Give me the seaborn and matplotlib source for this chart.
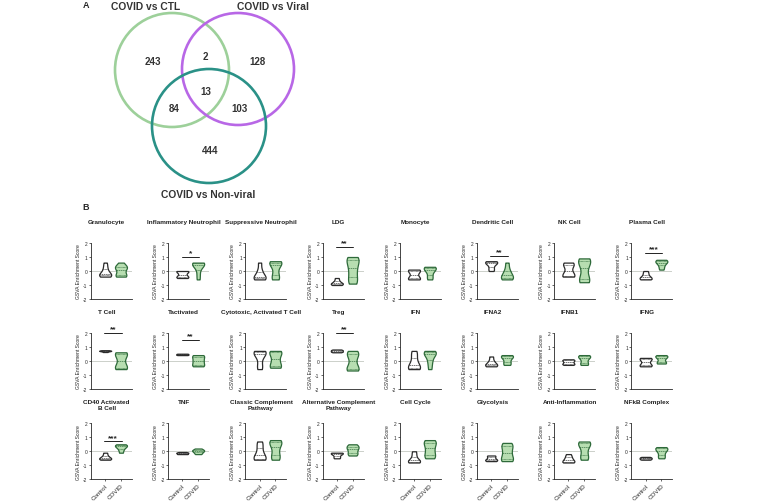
import numpy as np
import pandas as pd
import seaborn as sns
import matplotlib.pyplot as plt
from matplotlib.patches import Circle

# Venn (panel A)
venn_names = ["COVID vs CTL", "COVID vs Viral", "COVID vs Non-viral"]
# regions: CTL only, CTL&Viral, Viral only, all three, CTL&NonViral, Viral&NonViral, NonViral only
venn_counts = [243, 2, 128, 13, 84, 103, 444]

# violins (panel B)
panel_titles = ["Granulocyte", "Inflammatory Neutrophil", "Suppressive Neutrophil", "LDG",
                "Monocyte", "Dendritic Cell", "NK Cell", "Plasma Cell",
                "T Cell", "Tactivated", "Cytotoxic, Activated T Cell", "Treg",
                "IFN", "IFNA2", "IFNB1", "IFNG",
                "CD40 Activated\nB Cell", "TNF", "Classic Complement\nPathway",
                "Alternative Complement\nPathway", "Cell Cycle", "Glycolysis",
                "Anti-Inflammation", "NFkB Complex"]
groups = ["Control", "COVID"]

control_scores = [
    [-0.4, -0.35, -0.3, -0.25, -0.15, 0.05, 0.3, 0.6],
    [-0.5, -0.45, -0.4, -0.25, -0.05, -0.02, 0.0],
    [-0.6, -0.55, -0.5, -0.4, -0.2, 0.1, 0.6],
    [-1.0, -0.95, -0.9, -0.85, -0.7, -0.5],
    [-0.6, -0.55, -0.5, -0.25, 0.0, 0.05, 0.1],
    [0.0, 0.2, 0.5, 0.6, 0.65, 0.7],
    [-0.4, -0.35, -0.3, 0.0, 0.4, 0.5, 0.6],
    [-0.6, -0.55, -0.5, -0.4, -0.2, 0.0],
    [0.62, 0.68, 0.7, 0.72, 0.75],
    [0.4, 0.42, 0.45, 0.48, 0.5],
    [-0.6, -0.3, 0.2, 0.5, 0.6, 0.65, 0.7],
    [0.6, 0.65, 0.7, 0.75, 0.8],
    [-0.6, -0.55, -0.5, -0.3, 0.0, 0.4, 0.7],
    [-0.4, -0.35, -0.3, -0.2, 0.0, 0.3],
    [-0.3, -0.25, -0.2, -0.1, 0.0, 0.05, 0.1],
    [-0.4, -0.35, -0.3, -0.1, 0.1, 0.15, 0.2],
    [-0.6, -0.55, -0.5, -0.45, -0.3, -0.1],
    [-0.2, -0.18, -0.12, -0.1, -0.05],
    [-0.6, -0.55, -0.5, -0.3, 0.0, 0.4, 0.7],
    [-0.5, -0.4, -0.25, -0.15, -0.12, -0.1],
    [-0.8, -0.75, -0.7, -0.6, -0.3, 0.0],
    [-0.7, -0.65, -0.6, -0.5, -0.35, -0.3],
    [-0.8, -0.75, -0.7, -0.55, -0.4, -0.2],
    [-0.6, -0.55, -0.5, -0.45, -0.4],
]

covid_scores = [
    [-0.4, -0.35, -0.3, -0.1, 0.1, 0.25, 0.3, 0.35, 0.6],
    [-0.6, -0.2, 0.2, 0.4, 0.5, 0.55, 0.6, 0.6],
    [-0.6, -0.55, -0.3, 0.0, 0.4, 0.55, 0.6, 0.65, 0.7],
    [-0.9, -0.8, -0.6, -0.3, 0.0, 0.2, 0.5, 0.7, 0.85, 0.95, 1.0],
    [-0.6, -0.4, -0.1, 0.1, 0.2, 0.25, 0.3],
    [-0.6, -0.55, -0.5, -0.4, -0.2, -0.1, 0.2, 0.6],
    [-0.8, -0.75, -0.65, -0.4, 0.0, 0.4, 0.6, 0.75, 0.85, 0.9],
    [0.1, 0.3, 0.5, 0.6, 0.7, 0.75, 0.8],
    [-0.6, -0.55, -0.5, -0.3, 0.0, 0.3, 0.5, 0.55, 0.6],
    [-0.4, -0.35, -0.3, -0.1, 0.0, 0.1, 0.3, 0.35, 0.4],
    [-0.5, -0.45, -0.4, -0.1, 0.1, 0.4, 0.6, 0.65, 0.7],
    [-0.7, -0.65, -0.6, -0.5, -0.2, 0.1, 0.4, 0.5, 0.6, 0.7],
    [-0.6, -0.2, 0.1, 0.4, 0.5, 0.6, 0.65, 0.7],
    [-0.3, -0.2, 0.0, 0.2, 0.3, 0.35, 0.4],
    [-0.3, -0.25, -0.1, 0.1, 0.25, 0.3, 0.35, 0.4],
    [-0.2, -0.15, -0.1, 0.1, 0.25, 0.3, 0.35, 0.4],
    [-0.1, 0.1, 0.25, 0.35, 0.4, 0.45, 0.5],
    [-0.2, -0.1, 0.0, 0.05, 0.1, 0.2],
    [-0.6, -0.5, -0.3, 0.0, 0.3, 0.55, 0.65, 0.75, 0.8],
    [-0.3, -0.2, -0.1, 0.1, 0.2, 0.3, 0.4, 0.5],
    [-0.5, -0.45, -0.3, -0.1, 0.1, 0.3, 0.5, 0.65, 0.75, 0.8],
    [-0.7, -0.65, -0.6, -0.4, -0.2, 0.0, 0.2, 0.4, 0.5, 0.6],
    [-0.6, -0.5, -0.3, 0.0, 0.3, 0.5, 0.6, 0.65, 0.7],
    [-0.5, -0.4, -0.2, 0.0, 0.1, 0.2, 0.25, 0.3],
]

sig_labels = ["", "*", "", "**", "", "**", "", "***",
              "**", "**", "", "**", "", "", "", "",
              "***", "", "", "", "", "", "", ""]
sig_heights = [0, 1.0, 0, 1.7, 0, 1.1, 0, 1.3,
               2.0, 1.45, 0, 2.0, 0, 0, 0, 0,
               0.7, 0, 0, 0, 0, 0, 0, 0]

sns.set_style("ticks")
plt.rcParams["font.family"] = ["Liberation Sans", "DejaVu Sans"]

W, H = 758, 502
fig = plt.figure(figsize=(W / 100, H / 100), dpi=100)

# ---- panel A: venn drawn in pixel coords
vax = fig.add_axes([0, 0, 1, 1])
vax.set_xlim(0, W)
vax.set_ylim(H, 0)
vax.axis("off")
circles = [((172, 71), 57, "#9dd09a"), ((238, 70), 56, "#b867e6"), ((209, 127), 57, "#2a9187")]
for (cx, cy), r, col in circles:
    vax.add_patch(Circle((cx, cy), r, fill=False, ec=col, lw=1.9))
name_pos = [(146, 7), (273, 7), (208, 195)]
for name, (x, y) in zip(venn_names, name_pos):
    vax.text(x, y, name, ha="center", va="center", fontsize=7.4, fontweight="bold", color="#333333")
count_pos = [(153, 62), (205, 57), (257, 62), (206, 92), (174, 109), (240, 109), (210, 151)]
for n, (x, y) in zip(venn_counts, count_pos):
    vax.text(x, y, str(n), ha="center", va="center", fontsize=7, fontweight="bold", color="#333333")
vax.text(86, 6, "A", ha="center", va="center", fontsize=6.5, fontweight="bold")
vax.text(86, 208, "B", ha="center", va="center", fontsize=6.5, fontweight="bold")

# ---- panel B: violin grid
col_left = 91
col_step = 77.2
row_tops = [244, 333.7, 424.3]
ax_w, ax_h = 41, 56

for i, title in enumerate(panel_titles):
    r, c = divmod(i, 8)
    x0 = col_left + c * col_step
    y0 = row_tops[r]
    ax = fig.add_axes([x0 / W, 1 - (y0 + ax_h) / H, ax_w / W, ax_h / H])
    ctrl = control_scores[i]
    cov = covid_scores[i]
    df = pd.DataFrame({"group": ["Control"] * len(ctrl) + ["COVID"] * len(cov),
                       "score": ctrl + cov})
    ax.axhline(0, color="#c4c9c2", lw=0.6, zorder=0)
    sns.violinplot(data=df[df.group == "Control"], x="group", y="score", order=groups,
                   color="white", linecolor="#2b2b2b", linewidth=0.9, inner="quart",
                   inner_kws={"linewidth": 0.45}, cut=0, width=0.76, bw_adjust=0.8,
                   saturation=1, ax=ax)
    sns.violinplot(data=df[df.group == "COVID"], x="group", y="score", order=groups,
                   color="#b7deb1", linecolor="#2e6a3a", linewidth=0.9, inner="quart",
                   inner_kws={"linewidth": 0.45}, cut=0, width=0.76, bw_adjust=0.8,
                   saturation=1, ax=ax)
    ax.set_xlim(-0.9, 1.7)
    ax.set_ylim(-2, 2)
    ax.set_yticks([-2, -1, 0, 1, 2])
    ax.set_yticklabels(["-2", "-1", "0", "1", "2"])
    ax.tick_params(axis="y", labelsize=3.5, length=1.5, width=0.5, pad=1)
    ax.set_xlabel("")
    ax.set_ylabel("GSVA Enrichment Score", fontsize=3.6, labelpad=1.5)
    if r < 2:
        ax.set_xticks([])
    else:
        ax.set_xticks([0, 1])
        ax.set_xticklabels(groups, rotation=45, ha="right", rotation_mode="anchor")
        ax.tick_params(axis="x", labelsize=4.5, length=1.5, width=0.5, pad=1)
    for s in ["left", "bottom"]:
        ax.spines[s].set_linewidth(0.6)
    sns.despine(ax=ax)
    ax.patch.set_alpha(0)
    ax.text(0.38, 1 + 24 / ax_h, title, transform=ax.transAxes, ha="center", va="top",
            fontsize=4.6, fontweight="bold", linespacing=1.1, color="#222222")
    if sig_labels[i]:
        h = sig_heights[i]
        ax.plot([-0.05, 1.05], [h, h], color="#222222", lw=0.7, clip_on=False)
        ax.text(0.5, h + 0.05, sig_labels[i], ha="center", va="bottom",
                fontsize=6, fontweight="bold", clip_on=False)

fig.savefig("out.png", dpi=100)
